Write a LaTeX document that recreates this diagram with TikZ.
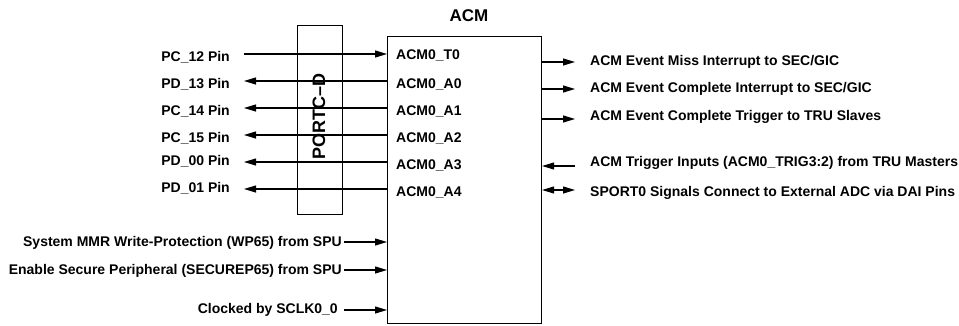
\documentclass[tikz,border=0pt]{standalone}
\usepackage{fontspec}
\setmainfont{Liberation Sans}
\usetikzlibrary{arrows.meta}
\begin{document}
\begin{tikzpicture}[x=1pt,y=-1pt,
  every node/.style={font=\fontsize{14}{16}\selectfont\bfseries, inner sep=0pt},
  box/.style={draw, line width=1.1pt},
  sig/.style={line width=1.1pt},
  tip/.style={-{Triangle[length=12pt,width=7pt]}},
  lbl/.style={anchor=east},
  rlbl/.style={anchor=west}]
\useasboundingbox (0,0) rectangle (959,325);
% boxes
\node[box, minimum width=45pt, minimum height=189pt, anchor=north west] (port) at (297,25) {};
\node[rotate=90, font=\fontsize{18}{20}\selectfont\bfseries] (portlbl) at (319,116) {PORTC--D};
\node[box, minimum width=154pt, minimum height=287pt, anchor=north west] (acm) at (387,36) {};
\node[font=\fontsize{17}{19}\selectfont\bfseries] (acmt) at (469,16) {ACM};
% ACM pin labels
\node[rlbl] (t0) at (396,55) {ACM0\_T0};
\node[rlbl] (a0) at (396,84) {ACM0\_A0};
\node[rlbl] (a1) at (396,111) {ACM0\_A1};
\node[rlbl] (a2) at (396,138) {ACM0\_A2};
\node[rlbl] (a3) at (396,165) {ACM0\_A3};
\node[rlbl] (a4) at (396,192) {ACM0\_A4};
% left pin labels
\node[lbl] (p1) at (230,57) {PC\_12 Pin};
\node[lbl] (p2) at (230,84) {PD\_13 Pin};
\node[lbl] (p3) at (230,111) {PC\_14 Pin};
\node[lbl] (p4) at (230,138) {PC\_15 Pin};
\node[lbl] (p5) at (230,161) {PD\_00 Pin};
\node[lbl] (p6) at (230,188) {PD\_01 Pin};
\coordinate (c1) at (244,54);
\coordinate (c2) at (244,81);
\coordinate (c3) at (244,108);
\coordinate (c4) at (244,135);
\coordinate (c5) at (244,162);
\coordinate (c6) at (244,189);
\draw[sig,tip] (c1) -- (acm.west |- c1);
\foreach \c in {c2,c3,c4,c5,c6}{
  \draw[sig,tip] (acm.west |- \c) -- (\c);
}
% lower inputs
\node[lbl] (w1) at (342,243) {System MMR Write-Protection (WP65) from SPU};
\node[lbl] (w2) at (342,271) {Enable Secure Peripheral (SECUREP65) from SPU};
\node[lbl] (w3) at (338,310) {Clocked by SCLK0\_0};
\coordinate (d1) at (344,242);
\coordinate (d2) at (344,270);
\coordinate (d3) at (344,310);
\foreach \c in {d1,d2,d3}{
  \draw[sig,tip] (\c) -- (acm.west |- \c);
}
% right outputs
\node[rlbl] (r1) at (590,62) {ACM Event Miss Interrupt to SEC/GIC};
\node[rlbl] (r2) at (590,89) {ACM Event Complete Interrupt to SEC/GIC};
\node[rlbl] (r3) at (590,117) {ACM Event Complete Trigger to TRU Slaves};
\node[rlbl] (r4) at (590,163) {ACM Trigger Inputs (ACM0\_TRIG3:2) from TRU Masters};
\node[rlbl] (r5) at (590,193) {SPORT0 Signals Connect to External ADC via DAI Pins};
\coordinate (e1) at (575,62);
\coordinate (e2) at (575,89);
\coordinate (e3) at (575,119);
\coordinate (e4) at (575,166);
\coordinate (e5) at (575,190);
\foreach \c in {e1,e2,e3}{
  \draw[sig,tip] (acm.east |- \c) -- (\c);
}
\draw[sig,tip] (e4) -- (acm.east |- e4);
\draw[sig,{Triangle[length=12pt,width=7pt]}-{Triangle[length=12pt,width=7pt]}] (acm.east |- e5) -- (e5);
\end{tikzpicture}
\end{document}
